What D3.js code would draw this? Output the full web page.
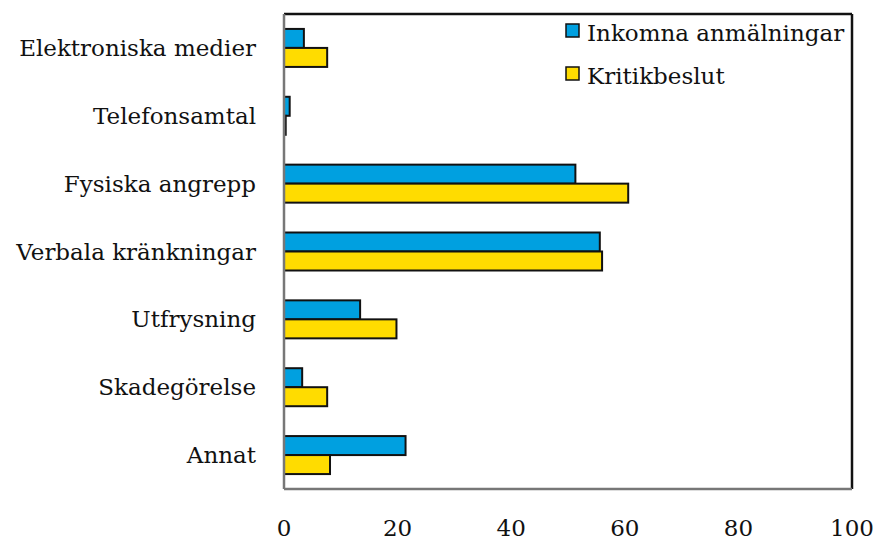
<!DOCTYPE html>
<html>
<head>
<meta charset="utf-8">
<script src="https://cdn.jsdelivr.net/npm/d3@7"></script>
<style>
  body { margin: 0; background: #fff; }
</style>
</head>
<body>
<script>
var categories = ['Elektroniska medier', 'Telefonsamtal', 'Fysiska angrepp', 'Verbala kränkningar', 'Utfrysning', 'Skadegörelse', 'Annat'];
var seriesNames = ['Inkomna anmälningar', 'Kritikbeslut'];
var inkomna = [3.5, 1.0, 51.3, 55.6, 13.4, 3.2, 21.4];
var kritik = [7.6, 0.3, 60.6, 56.0, 19.8, 7.6, 8.1];
var xTicks = [0, 20, 40, 60, 80, 100];

var colors = ['#00a0e0', '#ffdc00'];
var fontFam = "'DejaVu Serif'";
var fontSize = 23;

var plotLeft = 284, plotRight = 852, plotTop = 14, plotBottom = 489;

var svg = d3.select("body").append("svg").attr("width", 875).attr("height", 541);

var x = d3.scaleLinear().domain([0, 100]).range([plotLeft, plotRight]);
var y = d3.scaleBand().domain(categories).range([plotTop, plotBottom]).paddingInner(0.44).paddingOuter(0.22);
var ySub = d3.scaleBand().domain(seriesNames).range([0, y.bandwidth()]);

var rows = categories.map(function (c, i) { return { cat: c, vals: [inkomna[i], kritik[i]] }; });

var g = svg.selectAll("g.row")
      .data(rows)
      .enter().append("g")
      .attr("class", "row")
      .attr("transform", function (d) { return "translate(0," + y(d.cat) + ")"; });

g.selectAll("rect")
      .data(function (d) { return d.vals.map(function (v, j) { return { v: v, s: seriesNames[j], j: j }; }); })
      .enter().append("rect")
      .attr("x", x(0))
      .attr("y", function (d) { return ySub(d.s); })
      .attr("width", function (d) { return x(d.v) - x(0); })
      .attr("height", ySub.bandwidth())
      .attr("fill", function (d) { return colors[d.j]; })
      .attr("stroke", "#111")
      .attr("stroke-width", 2);

// category labels
svg.selectAll("text.cat")
      .data(categories)
      .enter().append("text")
      .attr("class", "cat")
      .attr("x", 256)
      .attr("y", function (d) { return y(d) + y.bandwidth() / 2; })
      .attr("dy", "0.35em")
      .attr("text-anchor", "end")
      .attr("font-family", fontFam)
      .attr("font-size", fontSize)
      .attr("fill", "#111")
      .text(function (d) { return d; });

// frame
svg.append("line").attr("x1", plotLeft).attr("y1", plotTop).attr("x2", plotRight).attr("y2", plotTop)
      .attr("stroke", "#111").attr("stroke-width", 2.5);
svg.append("line").attr("x1", plotRight).attr("y1", plotTop).attr("x2", plotRight).attr("y2", plotBottom)
      .attr("stroke", "#111").attr("stroke-width", 2.5);
svg.append("line").attr("x1", plotLeft).attr("y1", plotTop).attr("x2", plotLeft).attr("y2", plotBottom)
      .attr("stroke", "#777").attr("stroke-width", 2.5);
svg.append("line").attr("x1", plotLeft).attr("y1", plotBottom).attr("x2", plotRight).attr("y2", plotBottom)
      .attr("stroke", "#777").attr("stroke-width", 2.5);

// x tick labels
svg.selectAll("text.tick")
      .data(xTicks)
      .enter().append("text")
      .attr("class", "tick")
      .attr("x", function (d) { return x(d); })
      .attr("y", 536)
      .attr("text-anchor", "middle")
      .attr("font-family", fontFam)
      .attr("font-size", fontSize)
      .attr("fill", "#111")
      .text(function (d) { return d; });

// legend, clipped at the frame
svg.append("clipPath").attr("id", "clip")
      .append("rect").attr("x", plotLeft).attr("y", plotTop).attr("width", plotRight - plotLeft - 2).attr("height", plotBottom - plotTop);

var leg = svg.append("g").attr("clip-path", "url(#clip)")
      .selectAll("g")
      .data(seriesNames)
      .enter().append("g")
      .attr("transform", function (d, i) { return "translate(566," + (24 + i * 43) + ")"; });

leg.append("rect")
      .attr("width", 13).attr("height", 13)
      .attr("fill", function (d, i) { return colors[i]; })
      .attr("stroke", "#111").attr("stroke-width", 1.5);

leg.append("text")
      .attr("x", 21)
      .attr("y", 17)
      .attr("font-family", fontFam)
      .attr("font-size", fontSize)
      .attr("fill", "#111")
      .text(function (d) { return d; });
</script>
</body>
</html>
